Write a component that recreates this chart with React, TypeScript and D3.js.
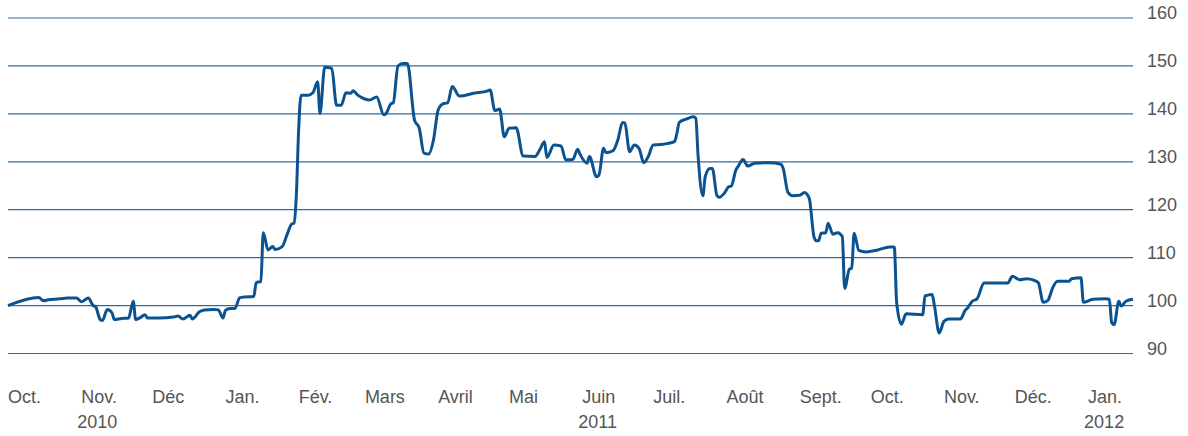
import * as d3 from "d3";
import React, { useEffect, useRef } from "react";

// readings of the index, base 100 at 1 Oct 2010
const dates = [
  "2010-10-01", "2010-10-14", "2010-10-16", "2010-10-18", "2010-10-23", "2010-10-26", "2010-10-30",
  "2010-11-01", "2010-11-04", "2010-11-06", "2010-11-07", "2010-11-09", "2010-11-10", "2010-11-12",
  "2010-11-14", "2010-11-15", "2010-11-18", "2010-11-21", "2010-11-23", "2010-11-24", "2010-11-26",
  "2010-11-28", "2010-11-29", "2010-12-04", "2010-12-10", "2010-12-12", "2010-12-14", "2010-12-17",
  "2010-12-18", "2010-12-21", "2010-12-23", "2010-12-27", "2010-12-29", "2010-12-31",
  "2011-01-01", "2011-01-03", "2011-01-05", "2011-01-07", "2011-01-09", "2011-01-13", "2011-01-14",
  "2011-01-16", "2011-01-17", "2011-01-19", "2011-01-21", "2011-01-22", "2011-01-25", "2011-01-27",
  "2011-01-29", "2011-01-30", "2011-01-31", "2011-02-01", "2011-02-02", "2011-02-05", "2011-02-07",
  "2011-02-09", "2011-02-10", "2011-02-12", "2011-02-15", "2011-02-17", "2011-02-19", "2011-02-21",
  "2011-02-23", "2011-02-24", "2011-02-26", "2011-03-01", "2011-03-03", "2011-03-06", "2011-03-09",
  "2011-03-10", "2011-03-12", "2011-03-13", "2011-03-15", "2011-03-17", "2011-03-19", "2011-03-22",
  "2011-03-24", "2011-03-26", "2011-03-28", "2011-03-30", "2011-04-01", "2011-04-03", "2011-04-05",
  "2011-04-07", "2011-04-10", "2011-04-16", "2011-04-22", "2011-04-23", "2011-04-25", "2011-04-27",
  "2011-04-29", "2011-05-01", "2011-05-04", "2011-05-07", "2011-05-12", "2011-05-14", "2011-05-16",
  "2011-05-17", "2011-05-20", "2011-05-23", "2011-05-25", "2011-05-28", "2011-05-30", "2011-05-31",
  "2011-06-03", "2011-06-04", "2011-06-07", "2011-06-08", "2011-06-10", "2011-06-11", "2011-06-14",
  "2011-06-16", "2011-06-18", "2011-06-19", "2011-06-21", "2011-06-23", "2011-06-25", "2011-06-27",
  "2011-06-29", "2011-07-01", "2011-07-04", "2011-07-10", "2011-07-11", "2011-07-12", "2011-07-15",
  "2011-07-18", "2011-07-19", "2011-07-20", "2011-07-22", "2011-07-23", "2011-07-25", "2011-07-26",
  "2011-07-28", "2011-07-29", "2011-07-31", "2011-08-02", "2011-08-03", "2011-08-05", "2011-08-06",
  "2011-08-08", "2011-08-10", "2011-08-13", "2011-08-19", "2011-08-24", "2011-08-25", "2011-08-27",
  "2011-08-29", "2011-09-01", "2011-09-03", "2011-09-05", "2011-09-07", "2011-09-08", "2011-09-09",
  "2011-09-10", "2011-09-12", "2011-09-13", "2011-09-15", "2011-09-17", "2011-09-19", "2011-09-20",
  "2011-09-22", "2011-09-23", "2011-09-24", "2011-09-26", "2011-09-29", "2011-10-04", "2011-10-09",
  "2011-10-11", "2011-10-12", "2011-10-14", "2011-10-16", "2011-10-23", "2011-10-24", "2011-10-27",
  "2011-10-28", "2011-10-30", "2011-11-01", "2011-11-03", "2011-11-08", "2011-11-10", "2011-11-11",
  "2011-11-13", "2011-11-15", "2011-11-18", "2011-11-28", "2011-11-30", "2011-12-03", "2011-12-06",
  "2011-12-10", "2011-12-11", "2011-12-13", "2011-12-15", "2011-12-17", "2011-12-19", "2011-12-24",
  "2011-12-25", "2011-12-29", "2011-12-30", "2012-01-03", "2012-01-08", "2012-01-10", "2012-01-11",
  "2012-01-12", "2012-01-14", "2012-01-15", "2012-01-17", "2012-01-20",
];

const values = [
  100.0, 101.7, 101.0, 101.2, 101.4, 101.6, 101.6,
  100.8, 101.6, 100.0, 99.8, 97.1, 96.9, 99.2,
  98.5, 97.1, 97.3, 97.4, 100.9, 97.1, 97.5,
  98.1, 97.4, 97.4, 97.6, 97.8, 97.2, 98.0,
  97.2, 98.7, 99.1, 99.2, 99.1, 97.4,
  99.0, 99.4, 99.4, 101.6, 101.8, 101.9, 104.8,
  105.0, 115.2, 111.6, 112.3, 111.7, 112.3, 114.7,
  117.0, 117.2, 123.0, 137.0, 143.9, 143.9, 144.4,
  146.7, 140.1, 149.7, 149.5, 141.8, 141.8, 144.4,
  144.3, 144.8, 143.9, 143.1, 142.9, 143.5, 139.8,
  140.1, 142.1, 142.3, 150.0, 150.5, 150.5, 138.7,
  137.0, 131.8, 131.6, 134.5, 140.8, 142.1, 142.3,
  145.7, 143.7, 144.3, 144.8, 145.0, 140.7, 141.0,
  135.2, 137.0, 137.1, 131.2, 131.1, 132.5, 134.2,
  130.9, 133.5, 133.3, 130.4, 130.5, 132.6, 131.6,
  129.7, 131.1, 126.9, 127.2, 132.8, 131.9, 132.3,
  134.5, 138.2, 138.1, 132.1, 133.5, 132.8, 129.8,
  131.2, 133.5, 133.6, 134.2, 135.9, 138.2, 138.9,
  139.4, 139.1, 131.1, 122.9, 126.9, 128.6, 128.6,
  122.9, 122.6, 123.4, 124.8, 124.9, 128.3, 129.1,
  130.5, 129.1, 129.7, 129.8, 129.5, 128.6, 123.6,
  122.9, 123.0, 123.6, 122.4, 114.4, 113.5, 113.5,
  115.1, 115.2, 117.2, 114.9, 115.2, 114.4, 103.6,
  107.6, 107.8, 115.1, 111.5, 111.2, 111.6, 112.2,
  112.2, 100.6, 96.1, 98.3, 98.1, 102.0, 102.3,
  99.9, 94.3, 96.7, 97.2, 97.2, 99.0, 99.5,
  100.9, 101.4, 104.7, 104.7, 106.1, 105.4, 105.6,
  105.1, 104.7, 100.7, 101.1, 103.7, 105.1, 105.1,
  105.6, 105.8, 100.7, 101.3, 101.4, 101.3, 96.4,
  96.0, 100.9, 99.9, 100.9, 101.3,
];

const yTicks = [90, 100, 110, 120, 130, 140, 150, 160];

const monthLabels = [
  "Oct.", "Nov.", "Déc", "Jan.", "Fév.", "Mars", "Avril", "Mai",
  "Juin", "Juil.", "Août", "Sept.", "Oct.", "Nov.", "Déc.", "Jan.",
];
const monthStarts = [
  "2010-10-01", "2010-11-01", "2010-12-01", "2011-01-01", "2011-02-01", "2011-03-01",
  "2011-04-01", "2011-05-01", "2011-06-01", "2011-07-01", "2011-08-01", "2011-09-01",
  "2011-10-01", "2011-11-01", "2011-12-01", "2012-01-01",
];
const yearLabels = ["2010", "2011", "2012"];
const yearAt = ["2010-11-01", "2011-06-01", "2012-01-01"];

const W = 1188;
const H = 436;

export default function App() {
  const ref = useRef<SVGSVGElement>(null);

  useEffect(() => {
    if (!ref.current) return;
    const parse = d3.utcParse("%Y-%m-%d");
    const data = dates.map((d, i) => ({ date: parse(d)!, value: values[i] }));

    const x = d3
      .scaleUtc()
      .domain([parse("2010-10-01")!, parse("2012-01-20")!])
      .range([8, 1133]);
    const y = d3.scaleLinear().domain([90, 160]).range([353.5, 18]);

    const svg = d3.select(ref.current);
    svg.selectAll("*").remove();

    const font = "'Liberation Sans', Helvetica, Arial, sans-serif";
    const textColor = "#555";

    // gridlines
    svg
      .append("g")
      .selectAll("line")
      .data(yTicks)
      .enter()
      .append("line")
      .attr("x1", x.range()[0])
      .attr("x2", x.range()[1])
      .attr("y1", (d) => y(d))
      .attr("y2", (d) => y(d))
      .attr("stroke", "#2f6ca6")
      .attr("stroke-width", 1.2);

    // right labels
    svg
      .append("g")
      .selectAll("text")
      .data(yTicks)
      .enter()
      .append("text")
      .attr("x", 1147)
      .attr("y", (d) => y(d) + 1)
      .text((d) => d)
      .attr("fill", textColor)
      .style("font-family", font)
      .style("font-size", "18px");

    // months
    svg
      .append("g")
      .selectAll("text")
      .data(monthStarts)
      .enter()
      .append("text")
      .attr("x", (d) => x(parse(d)!))
      .attr("y", 403)
      .text((d, i) => monthLabels[i])
      .attr("fill", textColor)
      .style("font-family", font)
      .style("font-size", "18px");

    svg
      .append("g")
      .selectAll("text")
      .data(yearAt)
      .enter()
      .append("text")
      .attr("x", (d) => x(parse(d)!) - 4)
      .attr("y", 428)
      .text((d, i) => yearLabels[i])
      .attr("fill", textColor)
      .style("font-family", font)
      .style("font-size", "18px");

    const line = d3
      .line<{ date: Date; value: number }>()
      .x((d) => x(d.date))
      .y((d) => y(d.value))
      .curve(d3.curveMonotoneX);

    svg
      .append("path")
      .datum(data)
      .attr("d", line)
      .attr("fill", "none")
      .attr("stroke", "#0b5290")
      .attr("stroke-width", 3)
      .attr("stroke-linejoin", "round");
  }, []);

  return (
    <svg
      ref={ref}
      width={W}
      height={H}
      style={{ position: "absolute", left: 0, top: 0, background: "#fff" }}
    />
  );
}
